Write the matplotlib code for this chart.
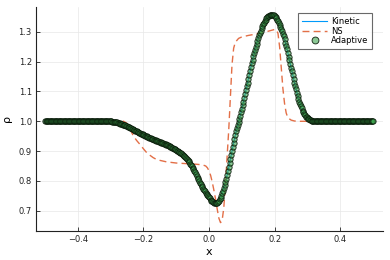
import matplotlib
matplotlib.use("Agg")
import matplotlib.pyplot as plt

# ---------------- data ----------------
# Kinetic / Adaptive solution (the two coincide in the picture)
x_flat_left = [-0.5000, -0.4975, -0.4950, -0.4925, -0.4900, -0.4875, -0.4850, -0.4825, -0.4800, -0.4775,
               -0.4750, -0.4725, -0.4700, -0.4675, -0.4650, -0.4625, -0.4600, -0.4575, -0.4550, -0.4525,
               -0.4500, -0.4475, -0.4450, -0.4425, -0.4400, -0.4375, -0.4350, -0.4325, -0.4300, -0.4275,
               -0.4250, -0.4225, -0.4200, -0.4175, -0.4150, -0.4125, -0.4100, -0.4075, -0.4050, -0.4025,
               -0.4000, -0.3975, -0.3950, -0.3925, -0.3900, -0.3875, -0.3850, -0.3825, -0.3800, -0.3775,
               -0.3750, -0.3725, -0.3700, -0.3675, -0.3650, -0.3625, -0.3600, -0.3575, -0.3550, -0.3525,
               -0.3500, -0.3475, -0.3450, -0.3425, -0.3400, -0.3375, -0.3350, -0.3325, -0.3300, -0.3275,
               -0.3250, -0.3225, -0.3200, -0.3175, -0.3150, -0.3125, -0.3100, -0.3075, -0.3050, -0.3025]
rho_flat_left = [1.000, 1.000, 1.000, 1.000, 1.000, 1.000, 1.000, 1.000, 1.000, 1.000,
                 1.000, 1.000, 1.000, 1.000, 1.000, 1.000, 1.000, 1.000, 1.000, 1.000,
                 1.000, 1.000, 1.000, 1.000, 1.000, 1.000, 1.000, 1.000, 1.000, 1.000,
                 1.000, 1.000, 1.000, 1.000, 1.000, 1.000, 1.000, 1.000, 1.000, 1.000,
                 1.000, 1.000, 1.000, 1.000, 1.000, 1.000, 1.000, 1.000, 1.000, 1.000,
                 1.000, 1.000, 1.000, 1.000, 1.000, 1.000, 1.000, 1.000, 1.000, 1.000,
                 1.000, 1.000, 1.000, 1.000, 1.000, 1.000, 1.000, 1.000, 1.000, 1.000,
                 1.000, 1.000, 1.000, 1.000, 1.000, 1.000, 1.000, 1.000, 1.000, 1.000]

x_descent = [-0.3000, -0.2975, -0.2950, -0.2925, -0.2900, -0.2875, -0.2850, -0.2825, -0.2800, -0.2775,
             -0.2750, -0.2725, -0.2700, -0.2675, -0.2650, -0.2625, -0.2600, -0.2575, -0.2550, -0.2525,
             -0.2500, -0.2475, -0.2450, -0.2425, -0.2400, -0.2375, -0.2350, -0.2325, -0.2300, -0.2275,
             -0.2250, -0.2225, -0.2200, -0.2175, -0.2150, -0.2125, -0.2100, -0.2075, -0.2050, -0.2025,
             -0.2000, -0.1975, -0.1950, -0.1925, -0.1900, -0.1875, -0.1850, -0.1825, -0.1800, -0.1775,
             -0.1750, -0.1725, -0.1700, -0.1675, -0.1650, -0.1625, -0.1600, -0.1575, -0.1550, -0.1525,
             -0.1500, -0.1475, -0.1450, -0.1425, -0.1400, -0.1375, -0.1350, -0.1325, -0.1300, -0.1275,
             -0.1250, -0.1225, -0.1200, -0.1175, -0.1150, -0.1125, -0.1100, -0.1075, -0.1050, -0.1025,
             -0.1000, -0.0975, -0.0950, -0.0925, -0.0900, -0.0875, -0.0850, -0.0825, -0.0800, -0.0775,
             -0.0750, -0.0725, -0.0700, -0.0675, -0.0650, -0.0625, -0.0600, -0.0575, -0.0550, -0.0525,
             -0.0500, -0.0475, -0.0450, -0.0425, -0.0400, -0.0375, -0.0350, -0.0325, -0.0300, -0.0275,
             -0.0250, -0.0225, -0.0200, -0.0175, -0.0150, -0.0125, -0.0100, -0.0075, -0.0050, -0.0025,
             0.0000, 0.0025, 0.0050, 0.0075, 0.0100, 0.0125, 0.0150, 0.0175, 0.0200, 0.0225,
             0.0250, 0.0275]
rho_descent = [1.000, 0.9995, 0.999, 0.9985, 0.998, 0.9975, 0.997, 0.9965, 0.996, 0.995,
               0.994, 0.993, 0.992, 0.991, 0.990, 0.989, 0.988, 0.987, 0.986, 0.9845,
               0.983, 0.982, 0.981, 0.9795, 0.978, 0.9765, 0.975, 0.9735, 0.972, 0.9705,
               0.969, 0.9675, 0.966, 0.9645, 0.963, 0.9615, 0.960, 0.959, 0.958, 0.9565,
               0.955, 0.9535, 0.952, 0.951, 0.950, 0.9485, 0.947, 0.9455, 0.944, 0.943,
               0.942, 0.941, 0.940, 0.9385, 0.937, 0.936, 0.935, 0.934, 0.933, 0.932,
               0.931, 0.9295, 0.928, 0.927, 0.926, 0.925, 0.924, 0.9225, 0.921, 0.920,
               0.919, 0.9175, 0.916, 0.9145, 0.913, 0.9115, 0.910, 0.9085, 0.907, 0.9055,
               0.904, 0.902, 0.900, 0.8985, 0.897, 0.895, 0.893, 0.8905, 0.888, 0.885,
               0.882, 0.879, 0.876, 0.8725, 0.869, 0.8655, 0.862, 0.8575, 0.853, 0.8485,
               0.844, 0.839, 0.834, 0.8285, 0.823, 0.817, 0.811, 0.805, 0.799, 0.794,
               0.789, 0.784, 0.779, 0.774, 0.769, 0.7645, 0.760, 0.7565, 0.753, 0.749,
               0.745, 0.741, 0.737, 0.734, 0.731, 0.729, 0.727, 0.726, 0.725, 0.7255,
               0.727, 0.7295]

x_rise = [0.0300, 0.0325, 0.0350, 0.0375, 0.0400, 0.0425, 0.0450, 0.0475, 0.0500, 0.0525,
          0.0550, 0.0575, 0.0600, 0.0625, 0.0650, 0.0675, 0.0700, 0.0725, 0.0750, 0.0775,
          0.0800, 0.0825, 0.0850, 0.0875, 0.0900, 0.0925, 0.0950, 0.0975, 0.1000, 0.1025,
          0.1050, 0.1075, 0.1100, 0.1125, 0.1150, 0.1175, 0.1200, 0.1225, 0.1250, 0.1275,
          0.1300, 0.1325, 0.1350, 0.1375, 0.1400, 0.1425, 0.1450, 0.1475, 0.1500, 0.1525,
          0.1550, 0.1575, 0.1600]
rho_rise = [0.733, 0.738, 0.744, 0.751, 0.758, 0.767, 0.776, 0.785, 0.795, 0.807,
            0.819, 0.832, 0.845, 0.859, 0.873, 0.886, 0.900, 0.914, 0.928, 0.941,
            0.955, 0.966, 0.977, 0.987, 0.997, 1.008, 1.019, 1.031, 1.042, 1.054,
            1.066, 1.079, 1.092, 1.105, 1.118, 1.130, 1.143, 1.156, 1.169, 1.182,
            1.195, 1.207, 1.218, 1.229, 1.240, 1.250, 1.260, 1.270, 1.280, 1.288,
            1.296, 1.304, 1.312]

x_peak = [0.1625, 0.1650, 0.1675, 0.1700, 0.1725, 0.1750, 0.1775, 0.1800, 0.1825, 0.1850,
          0.1875, 0.1900, 0.1925, 0.1950, 0.1975, 0.2000, 0.2025, 0.2050]
rho_peak = [1.319, 1.325, 1.331, 1.336, 1.341, 1.345, 1.349, 1.352, 1.354, 1.356,
            1.357, 1.358, 1.358, 1.357, 1.355, 1.352, 1.349, 1.345]

x_fall = [0.2075, 0.2100, 0.2125, 0.2150, 0.2175, 0.2200, 0.2225, 0.2250, 0.2275, 0.2300,
          0.2325, 0.2350, 0.2375, 0.2400, 0.2425, 0.2450, 0.2475, 0.2500, 0.2525, 0.2550,
          0.2575, 0.2600, 0.2625, 0.2650, 0.2675, 0.2700, 0.2725, 0.2750, 0.2775, 0.2800,
          0.2825, 0.2850, 0.2875, 0.2900, 0.2925, 0.2950, 0.2975, 0.3000]
rho_fall = [1.341, 1.336, 1.330, 1.324, 1.317, 1.310, 1.302, 1.294, 1.285, 1.275,
            1.264, 1.253, 1.242, 1.230, 1.217, 1.205, 1.192, 1.180, 1.167, 1.155,
            1.142, 1.130, 1.118, 1.107, 1.096, 1.085, 1.076, 1.066, 1.058, 1.050,
            1.043, 1.036, 1.030, 1.025, 1.020, 1.016, 1.013, 1.010]

x_flat_right = [0.3025, 0.3050, 0.3075, 0.3100, 0.3125, 0.3150, 0.3175, 0.3200,
                0.3225, 0.3250, 0.3275, 0.3300, 0.3325, 0.3350, 0.3375, 0.3400, 0.3425, 0.3450,
                0.3475, 0.3500, 0.3525, 0.3550, 0.3575, 0.3600, 0.3625, 0.3650, 0.3675, 0.3700,
                0.3725, 0.3750, 0.3775, 0.3800, 0.3825, 0.3850, 0.3875, 0.3900, 0.3925, 0.3950,
                0.3975, 0.4000, 0.4025, 0.4050, 0.4075, 0.4100, 0.4125, 0.4150, 0.4175, 0.4200,
                0.4225, 0.4250, 0.4275, 0.4300, 0.4325, 0.4350, 0.4375, 0.4400, 0.4425, 0.4450,
                0.4475, 0.4500, 0.4525, 0.4550, 0.4575, 0.4600, 0.4625, 0.4650, 0.4675, 0.4700,
                0.4725, 0.4750, 0.4775, 0.4800, 0.4825, 0.4850, 0.4875, 0.4900, 0.4925, 0.4950,
                0.4975, 0.5000]
rho_flat_right = [1.008, 1.006, 1.0045, 1.003, 1.002, 1.001, 1.0005, 1.000,
                  1.000, 1.000, 1.000, 1.000, 1.000, 1.000, 1.000, 1.000, 1.000, 1.000,
                  1.000, 1.000, 1.000, 1.000, 1.000, 1.000, 1.000, 1.000, 1.000, 1.000,
                  1.000, 1.000, 1.000, 1.000, 1.000, 1.000, 1.000, 1.000, 1.000, 1.000,
                  1.000, 1.000, 1.000, 1.000, 1.000, 1.000, 1.000, 1.000, 1.000, 1.000,
                  1.000, 1.000, 1.000, 1.000, 1.000, 1.000, 1.000, 1.000, 1.000, 1.000,
                  1.000, 1.000, 1.000, 1.000, 1.000, 1.000, 1.000, 1.000, 1.000, 1.000,
                  1.000, 1.000, 1.000, 1.000, 1.000, 1.000, 1.000, 1.000, 1.000, 1.000,
                  1.000, 1.000]

x_kinetic = x_flat_left + x_descent + x_rise + x_peak + x_fall + x_flat_right
rho_kinetic = rho_flat_left + rho_descent + rho_rise + rho_peak + rho_fall + rho_flat_right
x_adaptive = x_kinetic
rho_adaptive = rho_kinetic

# Navier-Stokes solution
x_ns = [-0.50, -0.26, -0.25, -0.24, -0.23, -0.22, -0.21, -0.20, -0.19, -0.18,
        -0.17, -0.16, -0.15, -0.13, -0.10, -0.07, -0.04, -0.02, -0.01, -0.005,
        0.000, 0.005, 0.010, 0.015, 0.020, 0.025, 0.030, 0.035, 0.040, 0.045,
        0.050, 0.055, 0.060, 0.065, 0.070, 0.075, 0.080, 0.090, 0.100, 0.120,
        0.140, 0.160, 0.180, 0.200, 0.205, 0.210, 0.215, 0.220, 0.225, 0.230,
        0.235, 0.240, 0.250, 0.260, 0.270, 0.50]
rho_ns = [1.000, 1.000, 0.993, 0.972, 0.950, 0.935, 0.922, 0.908, 0.895, 0.886,
          0.878, 0.872, 0.869, 0.864, 0.860, 0.858, 0.856, 0.854, 0.850, 0.844,
          0.834, 0.818, 0.795, 0.768, 0.738, 0.705, 0.675, 0.660, 0.668, 0.710,
          0.790, 0.880, 0.970, 1.080, 1.190, 1.245, 1.265, 1.278, 1.283, 1.288,
          1.292, 1.297, 1.302, 1.308, 1.307, 1.295, 1.250, 1.180, 1.110, 1.060,
          1.028, 1.012, 1.004, 1.001, 1.000, 1.000]

x_ticks = [-0.4, -0.2, 0.0, 0.2, 0.4]
x_ticklabels = ["\u22120.4", "\u22120.2", "0.0", "0.2", "0.4"]
y_ticks = [0.7, 0.8, 0.9, 1.0, 1.1, 1.2, 1.3]
y_ticklabels = ["0.7", "0.8", "0.9", "1.0", "1.1", "1.2", "1.3"]

# ---------------- plot ----------------
fig = plt.figure(figsize=(3.9, 2.6), dpi=100)
ax = fig.add_axes([0.0923, 0.1127, 0.889, 0.860])

ax.plot(x_kinetic, rho_kinetic, color="#009AFA", lw=0.8, label="Kinetic", zorder=2)
ax.plot(x_ns, rho_ns, color="#E36F47", lw=1.0, ls=(0, (5, 3)), label="NS", zorder=3)
ax.plot(x_adaptive, rho_adaptive, ls="none", marker="o", ms=3.8,
        markerfacecolor=(0.243, 0.643, 0.306, 0.6), markeredgecolor=(0.04, 0.10, 0.04, 0.9),
        markeredgewidth=0.65, label="Adaptive", zorder=4)

ax.set_xlim(-0.527, 0.529)
ax.set_ylim(0.633, 1.383)
ax.set_xticks(x_ticks)
ax.set_xticklabels(x_ticklabels)
ax.set_yticks(y_ticks)
ax.set_yticklabels(y_ticklabels)
ax.tick_params(direction="in", length=3, width=0.6, labelsize=6, colors="#222222", pad=3)
ax.grid(True, color="#e8e8e8", lw=0.5)
ax.set_axisbelow(True)
for s in ("top", "right"):
    ax.spines[s].set_visible(False)
for s in ("left", "bottom"):
    ax.spines[s].set_linewidth(0.8)
    ax.spines[s].set_color("#222222")

ax.set_xlabel("x", fontsize=8, labelpad=2)
ax.set_ylabel("\u03c1", fontsize=8, labelpad=5)

leg = ax.legend(loc="upper right", bbox_to_anchor=(0.970, 0.972), fontsize=6, frameon=True,
                fancybox=False, edgecolor="#444444", handlelength=3.0, handletextpad=0.5,
                borderpad=0.45, labelspacing=0.05, borderaxespad=0.0, markerscale=1.3)
leg.get_frame().set_linewidth(0.8)

fig.savefig("out.png", dpi=100)
